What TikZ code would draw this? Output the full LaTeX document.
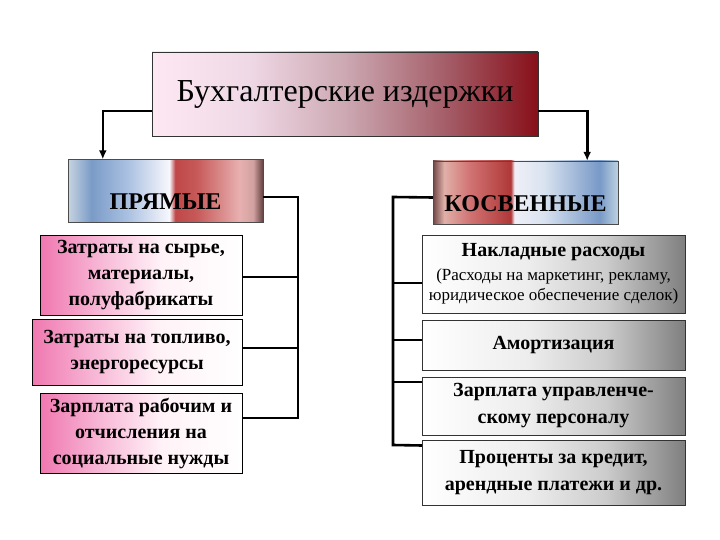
\documentclass[tikz,border=0pt]{standalone}
\usepackage{fontspec}
\setmainfont{Liberation Serif}
\usetikzlibrary{arrows.meta, positioning, calc}
\pgfdeclarehorizontalshading{shtitul}{100bp}{rgb(0bp)=(.99,.91,.95); rgb(25bp)=(.99,.91,.95);
  rgb(37.5bp)=(.94,.85,.9); rgb(50bp)=(.8,.66,.7); rgb(62.5bp)=(.65,.38,.42);
  rgb(75bp)=(.53,.06,.1); rgb(100bp)=(.53,.06,.1)}
\pgfdeclarehorizontalshading{shpryam}{100bp}{rgb(0bp)=(.78,.83,.88); rgb(25bp)=(.78,.83,.88);
  rgb(31bp)=(.48,.61,.78); rgb(40bp)=(.66,.75,.88); rgb(51bp)=(.97,.97,.99);
  rgb(52.5bp)=(.75,.28,.28); rgb(58bp)=(.78,.35,.35); rgb(69bp)=(.91,.69,.69);
  rgb(72.5bp)=(.82,.63,.63); rgb(75bp)=(.38,.25,.25); rgb(100bp)=(.38,.25,.25)}
\pgfdeclarehorizontalshading{shkosv}{100bp}{rgb(0bp)=(.44,.28,.28); rgb(25bp)=(.44,.28,.28);
  rgb(28bp)=(.88,.69,.66); rgb(35bp)=(.82,.45,.45); rgb(46bp)=(.69,.22,.22);
  rgb(47bp)=(.94,.94,.97); rgb(55bp)=(.85,.89,.94); rgb(70bp)=(.47,.6,.78);
  rgb(75bp)=(.75,.82,.88); rgb(100bp)=(.75,.82,.88)}
\pgfdeclarehorizontalshading{shzatr}{100bp}{rgb(0bp)=(.94,.47,.69); rgb(25bp)=(.94,.47,.69);
  rgb(40bp)=(.97,.72,.84); rgb(55bp)=(1,.95,.97); rgb(75bp)=(1,1,1); rgb(100bp)=(1,1,1)}
\pgfdeclarehorizontalshading{shrash}{100bp}{rgb(0bp)=(1,1,1); rgb(25bp)=(1,1,1);
  rgb(45bp)=(.93,.93,.93); rgb(60bp)=(.8,.8,.8); rgb(75bp)=(.5,.5,.5); rgb(100bp)=(.5,.5,.5)}
\newcommand{\melk}{\mdseries\fontsize{17}{20}\selectfont}
\tikzset{
  titul/.style={rectangle, shading=shtitul, draw=black!80, minimum width=386pt,
                minimum height=84pt, font=\fontsize{32}{36}\selectfont},
  vid/.style={rectangle, draw=black!70, minimum height=63pt, text height=40pt, text depth=2pt,
              font=\bfseries\fontsize{24}{28}\selectfont},
  zatr/.style={rectangle, shading=shzatr, draw=black, minimum width=202pt, minimum height=80pt,
               align=center, font=\bfseries\fontsize{20}{26}\selectfont},
  rash/.style={rectangle, shading=shrash, draw=black!80, minimum width=263pt,
               align=center, font=\bfseries\fontsize{20}{27}\selectfont},
  line/.style={line width=2.6pt},
  arc/.style={-{Latex[length=9pt, width=8pt]}, line width=2.6pt}
}
\begin{document}
\begin{tikzpicture}[x=1pt, y=-1pt]
  \useasboundingbox (0,0) rectangle (720,540);
  \node[titul] (titul) at (345,94) {Бухгалтерские издержки};
  \node[vid, shading=shpryam, minimum width=195pt] (pryam) at (165.5,191) {ПРЯМЫЕ};
  \node[vid, shading=shkosv, minimum width=185pt] (kosv) at (525.5,192.5) {КОСВЕННЫЕ};
  \node[zatr] (zatr1) at (141,275) {Затраты на сырье,\\материалы,\\полуфабрикаты};
  \node[zatr, minimum width=210pt, minimum height=66pt] (zatr2) at (137,352)
    {Затраты на топливо,\\энергоресурсы};
  \node[zatr] (zatr3) at (141,433) {Зарплата рабочим и\\отчисления на\\социальные нужды};
  \node[rash, minimum height=78pt] (nakl) at (553.5,274)
    {Накладные расходы\\[-3pt]\melk (Расходы на маркетинг, рекламу,\\[-7pt]
     \melk юридическое обеспечение сделок)};
  \node[rash, minimum height=50pt] (amort) at (553.5,345) {Амортизация};
  \node[rash, minimum height=58pt] (zpup) at (553.5,406) {Зарплата управленче-\\скому персоналу};
  \node[rash, minimum height=65pt] (proc) at (553.5,472.5) {Проценты за кредит,\\арендные платежи и др.};
  \draw[arc] ([yshift=-17pt]titul.west) -| ([xshift=35pt]pryam.north west);
  \draw[arc] ([yshift=-17pt]titul.east) -| ([xshift=-31pt]kosv.north east);
  \coordinate (lt) at (298,197);
  \coordinate (lb) at (298,418);
  \draw[line] ([yshift=-6pt]pryam.east) -- (lt) -- (lb) -- ([yshift=15pt]zatr3.east);
  \draw[line] ([yshift=-2pt]zatr1.east) -- ([yshift=-2pt]zatr1.east -| lt);
  \draw[line] ([yshift=4pt]zatr2.east) -- ([yshift=4pt]zatr2.east -| lt);
  \coordinate (rt) at (393,197);
  \coordinate (rb) at (393,445);
  \draw[line] ([yshift=-5pt]kosv.west) -- (rt) -- (rb) -- ([yshift=27pt]proc.west);
  \draw[line] ([yshift=-9pt]nakl.west) -- ([yshift=-9pt]nakl.west -| rt);
  \draw[line] ([yshift=5pt]amort.west) -- ([yshift=5pt]amort.west -| rt);
  \draw[line] ([yshift=24pt]zpup.west) -- ([yshift=24pt]zpup.west -| rt);
\end{tikzpicture}
\end{document}
